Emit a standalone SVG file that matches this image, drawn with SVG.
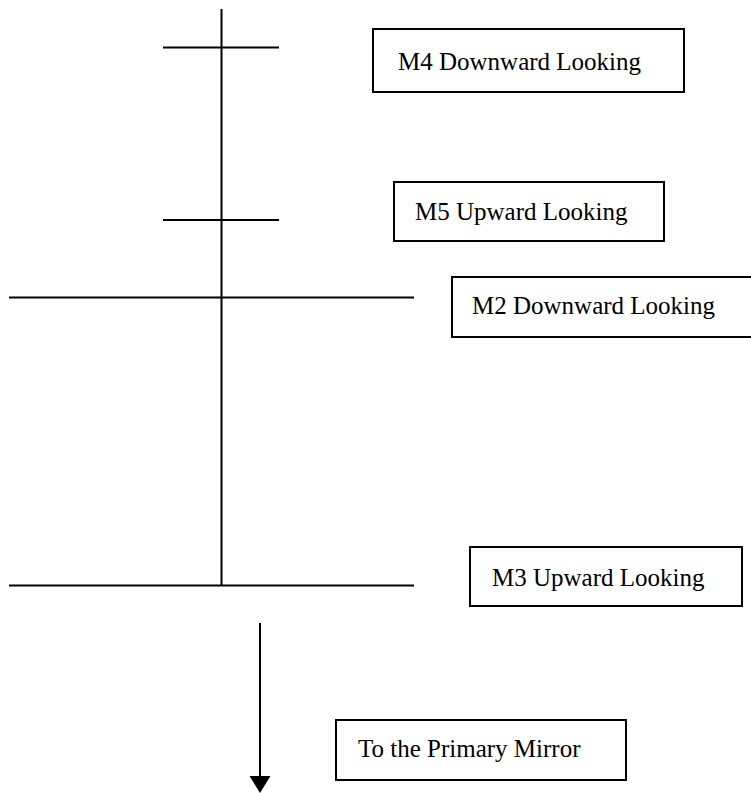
<svg xmlns="http://www.w3.org/2000/svg" width="751" height="793" viewBox="0 0 751 793">
<style>
.ln{stroke:#000;stroke-width:2;fill:none}
.box{fill:#fff;stroke:#000;stroke-width:2}
.lbl{font-family:"Liberation Serif","Times New Roman",serif;font-size:25px;fill:#000}
</style>
<g id="connectors">
<line class="ln" x1="221.5" y1="9" x2="221.5" y2="586"/>
<line class="ln" x1="163" y1="47.5" x2="279" y2="47.5"/>
<line class="ln" x1="163" y1="220" x2="279" y2="220"/>
<line class="ln" x1="9" y1="297.5" x2="414" y2="297.5"/>
<line class="ln" x1="9" y1="585.5" x2="414" y2="585.5"/>
<line class="ln" x1="260" y1="623" x2="260" y2="778"/>
<path d="M249.5,776 L270.5,776 L260,793 Z" fill="#000"/>
</g>
<g id="m4">
<rect class="box" x="373" y="29" width="311" height="63"/>
<text class="lbl" x="398" y="70">M4 Downward Looking</text>
</g>
<g id="m5">
<rect class="box" x="394" y="182" width="270" height="59"/>
<text class="lbl" x="415" y="220">M5 Upward Looking</text>
</g>
<g id="m2">
<rect class="box" x="452" y="277" width="302" height="60"/>
<text class="lbl" x="472" y="314">M2 Downward Looking</text>
</g>
<g id="m3">
<rect class="box" x="470" y="547" width="272" height="59"/>
<text class="lbl" x="492" y="586">M3 Upward Looking</text>
</g>
<g id="primary">
<rect class="box" x="336" y="720" width="290" height="60"/>
<text class="lbl" x="358" y="757">To the Primary Mirror</text>
</g>
</svg>
